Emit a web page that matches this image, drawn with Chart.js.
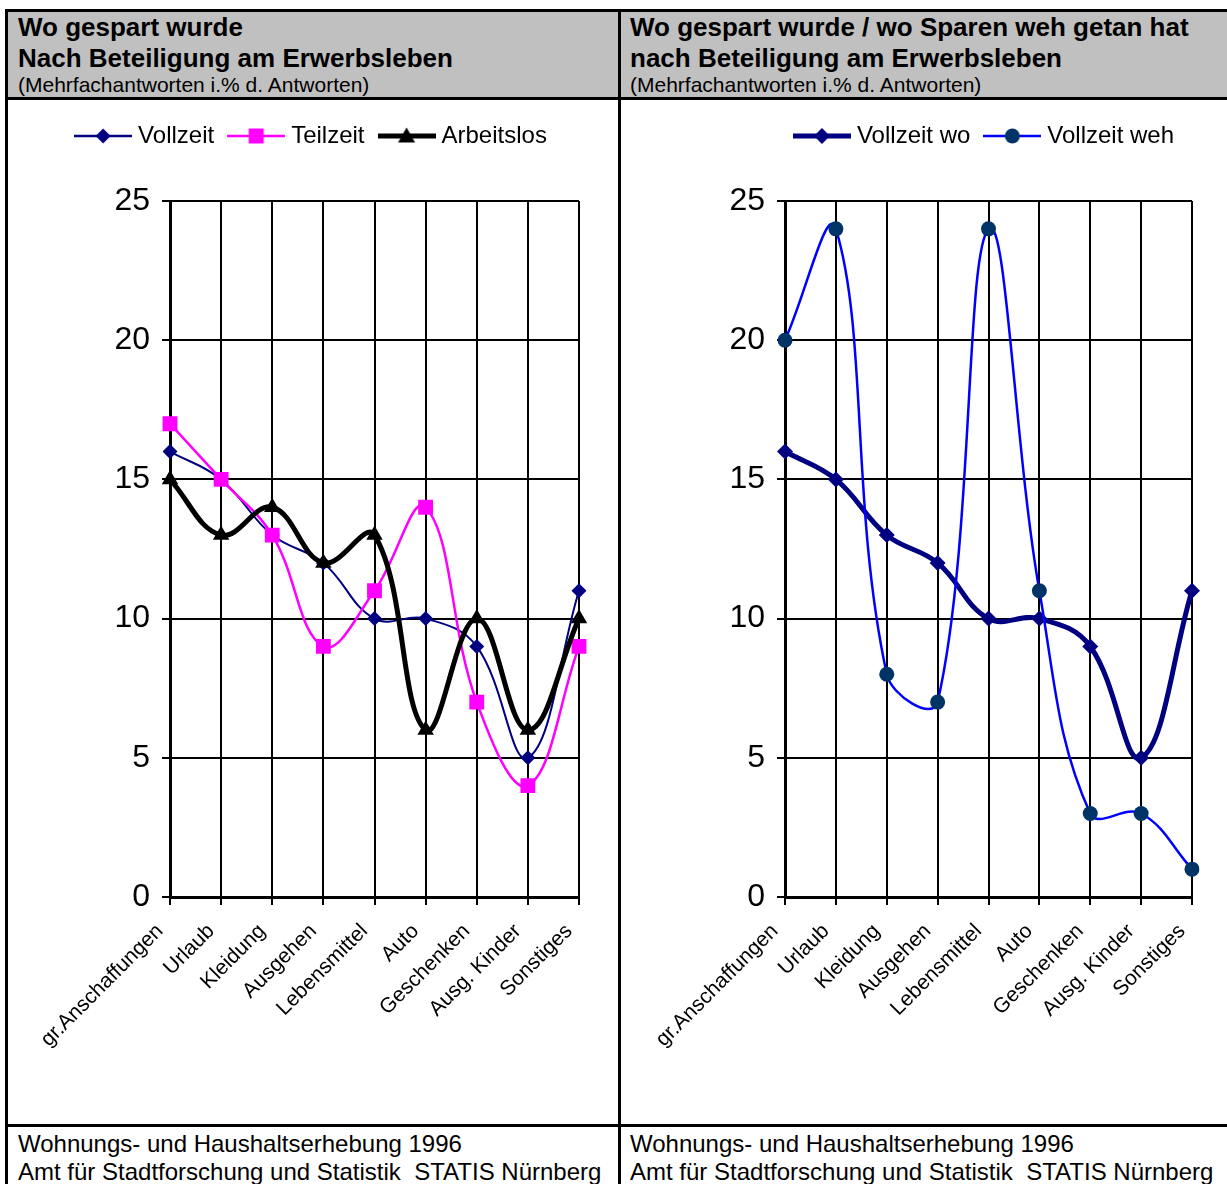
<!DOCTYPE html>
<html lang="de">
<head>
<meta charset="utf-8">
<title>Wo gespart wurde</title>
<script src="https://cdn.jsdelivr.net/npm/chart.js@4.4.1/dist/chart.umd.min.js"></script>
<style>
  html, body { margin: 0; padding: 0; background: #fff; overflow: hidden; }
  body { width: 1227px; height: 1184px; position: relative; font-family: Arial, "Liberation Sans", sans-serif; color: #000; }
  .line { position: absolute; background: #000; }
  .kopf { position: absolute; top: 12px; height: 85px; background: #c0c0c0; padding-left: 10px; box-sizing: border-box; white-space: nowrap; overflow: hidden; }
  .kopf .t { font-weight: bold; font-size: 26px; line-height: 31px; }
  .kopf .s { font-size: 21px; line-height: 24px; margin-top: -1px; }
  .fuss { position: absolute; top: 1127px; padding-left: 10px; padding-top: 3px; font-size: 24px; line-height: 28px; white-space: nowrap; }
  canvas { position: absolute; top: 100px; }
</style>
</head>
<body>

<div class="kopf" style="left:8px; width:610px;">
  <div class="t">Wo gespart wurde</div>
  <div class="t">Nach Beteiligung am Erwerbsleben</div>
  <div class="s">(Mehrfachantworten i.% d. Antworten)</div>
</div>
<div class="kopf" style="left:621px; width:615px; padding-left:9px;">
  <div class="t">Wo gespart wurde / wo Sparen weh getan hat</div>
  <div class="t">nach Beteiligung am Erwerbsleben</div>
  <div class="s">(Mehrfachantworten i.% d. Antworten)</div>
</div>

<canvas id="chartLinks" width="610" height="1024" style="left:8px;"></canvas>
<canvas id="chartRechts" width="610" height="1024" style="left:621px;"></canvas>

<div class="fuss" style="left:8px;">Wohnungs- und Haushaltserhebung 1996<br>Amt für Stadtforschung und Statistik&nbsp; STATIS Nürnberg</div>
<div class="fuss" style="left:621px; padding-left:9px;">Wohnungs- und Haushaltserhebung 1996<br>Amt für Stadtforschung und Statistik&nbsp; STATIS Nürnberg</div>

<div class="line" style="left:5px; top:9px; width:1230px; height:3px;"></div>
<div class="line" style="left:5px; top:9px; width:3px; height:1180px;"></div>
<div class="line" style="left:618px; top:9px; width:3px; height:1180px;"></div>
<div class="line" style="left:5px; top:97px; width:1230px; height:3px;"></div>
<div class="line" style="left:5px; top:1124px; width:1230px; height:3px;"></div>

<script>
// Daten
const kategorien = ['gr.Anschaffungen', 'Urlaub', 'Kleidung', 'Ausgehen', 'Lebensmittel', 'Auto', 'Geschenken', 'Ausg. Kinder', 'Sonstiges'];
const vollzeit = [16, 15, 13, 12, 10, 10, 9, 5, 11];
const teilzeit = [17, 15, 13, 9, 11, 14, 7, 4, 9];
const arbeitslos = [15, 13, 14, 12, 13, 6, 10, 6, 10];
const vollzeitWo = [16, 15, 13, 12, 10, 10, 9, 5, 11];
const vollzeitWeh = [20, 24, 8, 7, 24, 11, 3, 3, 1];
const yTicks = [0, 5, 10, 15, 20, 25];

const schrift = 'Arial, "Liberation Sans", sans-serif';

// Legendensymbol: Linie mit Marker in der Mitte
const legendIcon = (farbe, breite, form, groesse, fuellung) =>
{
    const c = document.createElement('canvas');
    c.width = 58;
    c.height = 24;
    const ctx = c.getContext('2d');
    ctx.strokeStyle = farbe;
    ctx.lineWidth = breite;
    ctx.beginPath();
    ctx.moveTo(0, 12);
    ctx.lineTo(58, 12);
    ctx.stroke();

    ctx.fillStyle = fuellung;
    ctx.beginPath();
    const x = 29, y = 12, r = groesse;
    if (form === 'rectRot')
    {
        ctx.moveTo(x - r, y); ctx.lineTo(x, y - r); ctx.lineTo(x + r, y); ctx.lineTo(x, y + r);
    }
    else if (form === 'rect')
    {
        ctx.rect(x - r, y - r, 2 * r, 2 * r);
    }
    else if (form === 'triangle')
    {
        ctx.moveTo(x, y - r - 1); ctx.lineTo(x + r + 1, y + r - 1); ctx.lineTo(x - r - 1, y + r - 1);
    }
    else
    {
        ctx.arc(x, y, r, 0, Math.PI * 2);
    }
    ctx.closePath();
    ctx.fill();
    return c;
};

// Legende: Abstand nach unten und horizontale Verschiebung
const legendLayout =
{
    id: 'legendLayout',
    beforeLayout(chart, args, opts)
    {
        const legend = chart.legend;
        if (!legend || legend.gapPatched) return;
        const fit = legend.fit;
        legend.fit = function ()
        {
            fit.call(this);
            this.height += opts.gap;
        };
        legend.gapPatched = true;
    },
    afterLayout(chart, args, opts)
    {
        chart.legend.left += opts.shift;
        chart.legend.right += opts.shift;
    }
};

const zeichneChart = (id, datasets, icons, shift, yWidth) =>
{
    new Chart(document.getElementById(id),
    {
        type: 'line',
        data: { labels: kategorien, datasets: datasets },
        plugins: [legendLayout],
        options:
        {
            responsive: false,
            animation: false,
            layout: { padding: { top: 5, right: 39, left: 0, bottom: 0 } },
            elements: { line: { tension: 0.4 } },
            plugins:
            {
                tooltip: { enabled: false },
                legendLayout: { gap: 43, shift: shift },
                legend:
                {
                    position: 'top',
                    labels:
                    {
                        usePointStyle: true,
                        pointStyleWidth: 46,
                        padding: 19,
                        color: '#000',
                        font: { family: schrift, size: 24 },
                        sort: (a, b) => a.datasetIndex - b.datasetIndex,
                        generateLabels: (chart) =>
                            Chart.defaults.plugins.legend.labels.generateLabels(chart)
                                .map((item) => ({ ...item, pointStyle: icons[item.datasetIndex] }))
                    }
                }
            },
            scales:
            {
                x:
                {
                    offset: false,
                    grid: { color: '#000', lineWidth: 2, drawTicks: true, tickLength: 8, offset: false },
                    border: { color: '#000', width: 3 },
                    ticks:
                    {
                        autoSkip: false,
                        minRotation: 45,
                        maxRotation: 45,
                        padding: 14,
                        labelOffset: -10,
                        color: '#000',
                        font: { family: schrift, size: 21 }
                    },
                    afterFit: (scale) => { scale.height = 227; }
                },
                y:
                {
                    min: yTicks[0],
                    max: yTicks[yTicks.length - 1],
                    afterBuildTicks: (scale) => { scale.ticks = yTicks.map((v) => ({ value: v })); },
                    grid: { color: '#000', lineWidth: 2, drawTicks: true, tickLength: 8 },
                    border: { color: '#000', width: 3 },
                    ticks:
                    {
                        padding: 12,
                        color: '#000',
                        font: { family: schrift, size: 32 }
                    },
                    afterFit: (scale) => { scale.width = yWidth; }
                }
            }
        }
    });
};

// Linkes Diagramm
zeichneChart('chartLinks',
[
    {
        label: 'Vollzeit', data: vollzeit, order: 3,
        borderColor: '#000080', borderWidth: 2,
        pointStyle: 'rectRot', pointRadius: 7.5, pointBackgroundColor: '#000080', pointBorderWidth: 0
    },
    {
        label: 'Teilzeit', data: teilzeit, order: 2,
        borderColor: '#ff00ff', borderWidth: 2.5,
        pointStyle: 'rect', pointRadius: 10.5, pointBackgroundColor: '#ff00ff', pointBorderWidth: 0
    },
    {
        label: 'Arbeitslos', data: arbeitslos, order: 1,
        borderColor: '#000000', borderWidth: 5,
        pointStyle: 'triangle', pointRadius: 9.5, pointBackgroundColor: '#000000', pointBorderWidth: 0
    }
],
[
    legendIcon('#000080', 2.5, 'rectRot', 7.5, '#000080'),
    legendIcon('#ff00ff', 2.5, 'rect', 7.5, '#ff00ff'),
    legendIcon('#000000', 5, 'triangle', 7.5, '#000000')
], 20, 162);

// Rechtes Diagramm
zeichneChart('chartRechts',
[
    {
        label: 'Vollzeit wo', data: vollzeitWo, order: 2,
        borderColor: '#000080', borderWidth: 5,
        pointStyle: 'rectRot', pointRadius: 8, pointBackgroundColor: '#000080', pointBorderWidth: 0
    },
    {
        label: 'Vollzeit weh', data: vollzeitWeh, order: 1,
        borderColor: '#0000ff', borderWidth: 2.5,
        pointStyle: 'circle', pointRadius: 7.5, pointBackgroundColor: '#003366', pointBorderWidth: 0
    }
],
[
    legendIcon('#000080', 5, 'rectRot', 8, '#000080'),
    legendIcon('#0000ff', 2.5, 'circle', 7.5, '#003366')
], 80, 164);
</script>
</body>
</html>
